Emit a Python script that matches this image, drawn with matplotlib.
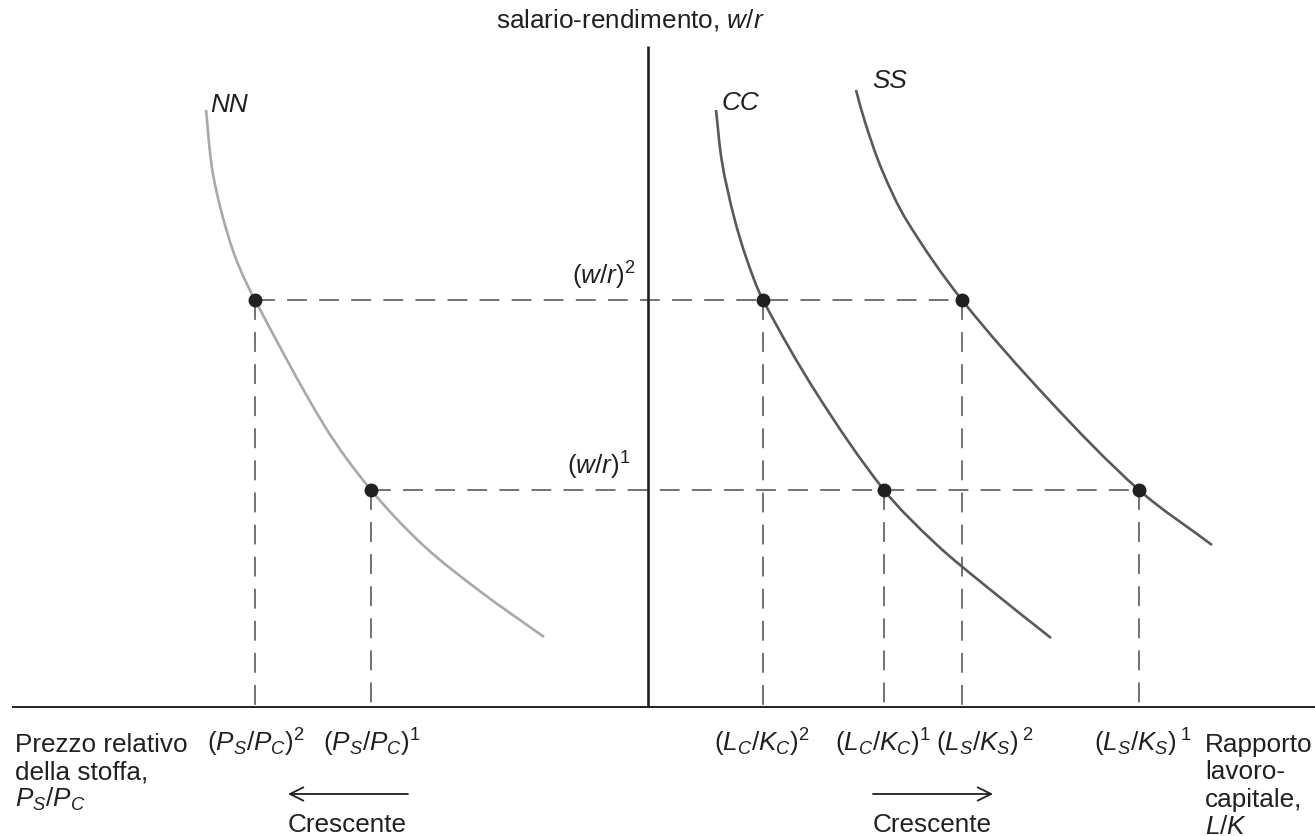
import matplotlib
matplotlib.use("Agg")
import matplotlib.pyplot as plt
from matplotlib.path import Path
from matplotlib.patches import PathPatch

# font like Helvetica, math in the same family
plt.rcParams['font.family'] = ['Liberation Sans', 'DejaVu Sans']
plt.rcParams['mathtext.fontset'] = 'custom'
plt.rcParams['mathtext.rm'] = 'Liberation Sans'
plt.rcParams['mathtext.it'] = 'Liberation Sans:italic'
plt.rcParams['mathtext.sf'] = 'Liberation Sans'

# curves (x from the w/r axis, y above the horizontal axis)
nn_x = [-442, -436, -426, -412, -393, -324, -277, -224, -167, -104]
nn_y = [597, 539, 493, 448, 407, 282, 217, 161, 115, 70]
cc_x = [68, 74, 86, 99, 115, 169, 236, 288, 339, 403]
cc_y = [597, 545, 490, 447, 407, 313, 217, 163, 120, 69]
ss_x = [208, 217, 234, 259, 314, 402, 491, 564]
ss_y = [617, 585, 537, 486, 407, 306, 217, 162]

# the two wage-rental levels, and where each curve meets them
wr_levels = [407, 217]               # (w/r)^2, (w/r)^1
wr_labels = [r'$(w/r)^2$', r'$(w/r)^1$']
nn_pts = [-393, -277]                # (PS/PC)^2, (PS/PC)^1
cc_pts = [115, 236]                  # (LC/KC)^2, (LC/KC)^1
ss_pts = [314, 491]                  # (LS/KS)^2, (LS/KS)^1
nn_ticks = [r'$(P_S/P_C)^2$', r'$(P_S/P_C)^1$']
cc_ticks = [r'$(L_C/K_C)^2$', r'$(L_C/K_C)^1$']
ss_ticks = [r'$(L_S/K_S)\,^2$', r'$(L_S/K_S)\,^1$']

left_lines = ['Prezzo relativo', 'della stoffa,', '$P_S/P_C$']
right_lines = ['Rapporto', 'lavoro-', 'capitale,', '$L/K$']

ink = '#231f20'
dark = '#58595b'
light = '#a7a9ac'
fs = 18.8


def smooth_path(xs, ys):
    # bezier segments through the read points, tangents from chord lengths
    pts = list(zip(xs, ys))
    n = len(pts)
    t = [0.0]
    for i in range(1, n):
        dx = pts[i][0] - pts[i - 1][0]
        dy = pts[i][1] - pts[i - 1][1]
        t.append(t[-1] + (dx * dx + dy * dy) ** 0.5)
    tang = []
    for i in range(n):
        a = max(i - 1, 0)
        b = min(i + 1, n - 1)
        dt = t[b] - t[a]
        tang.append(((pts[b][0] - pts[a][0]) / dt, (pts[b][1] - pts[a][1]) / dt))
    verts = [pts[0]]
    codes = [Path.MOVETO]
    for i in range(n - 1):
        h = (t[i + 1] - t[i]) / 3.0
        c1 = (pts[i][0] + tang[i][0] * h, pts[i][1] + tang[i][1] * h)
        c2 = (pts[i + 1][0] - tang[i + 1][0] * h, pts[i + 1][1] - tang[i + 1][1] * h)
        verts += [c1, c2, pts[i + 1]]
        codes += [Path.CURVE4] * 3
    return Path(verts, codes)


fig = plt.figure(figsize=(13.15, 8.37), dpi=100, facecolor='white')
ax = fig.add_axes([0, 0, 1, 1])
ax.set_xlim(-648, 667)
ax.set_ylim(-129, 708)
ax.axis('off')

# axes of the diagram
ax.plot([0, 0], [0, 661], color=ink, lw=1.9, solid_capstyle='butt', zorder=3)
ax.plot([-636, 667], [0, 0], color=ink, lw=1.4, solid_capstyle='butt', zorder=3)

# curves
for xs, ys, col in [(nn_x, nn_y, light), (cc_x, cc_y, dark), (ss_x, ss_y, dark)]:
    ax.add_patch(PathPatch(smooth_path(xs, ys), fill=False, edgecolor=col,
                           lw=1.9, zorder=2))

dash = dict(color='#4d4d4f', lw=1.1, dashes=(13, 8), zorder=1)
for i, lev in enumerate(wr_levels):
    ax.plot([nn_pts[i], ss_pts[i]], [lev, lev], **dash)
    for px in (nn_pts[i], cc_pts[i], ss_pts[i]):
        ax.plot([px, px], [lev, 0], **dash)
    ax.plot([nn_pts[i], cc_pts[i], ss_pts[i]], [lev] * 3, 'o', ms=9,
            color=ink, zorder=4, linestyle='none')
    ax.text(-12 - 5 * i, lev + 16, wr_labels[i], fontsize=fs, color=ink,
            ha='right', va='baseline')

# labels under the axis
base = -44
for i in range(2):
    ax.text(nn_pts[i] + 1, base, nn_ticks[i], fontsize=fs, color=ink,
            ha='center', va='baseline')
    ax.text(cc_pts[i] - 1, base, cc_ticks[i], fontsize=fs, color=ink,
            ha='center', va='baseline')
ax.text(ss_pts[0] - 26, base, ss_ticks[0], fontsize=fs, color=ink,
        ha='left', va='baseline')
ax.text(ss_pts[1] + 4, base, ss_ticks[1], fontsize=fs, color=ink,
        ha='center', va='baseline')

step = 27.5
for k, line in enumerate(left_lines):
    ax.text(-633, base - k * step, line, fontsize=fs, color=ink,
            ha='left', va='baseline')
for k, line in enumerate(right_lines):
    ax.text(557, base - k * step, line, fontsize=fs, color=ink,
            ha='left', va='baseline')

# title of the vertical axis and curve names
ax.text(-18, 688, 'salario-rendimento, $w/r$', fontsize=fs, color=ink,
        ha='center', va='center')
ax.text(-438, 603, 'NN', fontsize=fs, color=ink, style='italic', va='center')
ax.text(74, 605, 'CC', fontsize=fs, color=ink, style='italic', va='center')
ax.text(224, 627, 'SS', fontsize=fs, color=ink, style='italic', va='center')

# direction arrows
arr = dict(arrowstyle='->', color=ink, lw=1.3, mutation_scale=24,
           shrinkA=0, shrinkB=0)
ax.annotate('', xy=(-360, -87), xytext=(-240, -87), arrowprops=arr)
ax.annotate('', xy=(345, -87), xytext=(225, -87), arrowprops=arr)
ax.text(-301, -124, 'Crescente', fontsize=fs, color=ink, ha='center', va='baseline')
ax.text(284, -124, 'Crescente', fontsize=fs, color=ink, ha='center', va='baseline')

fig.savefig('out.png', dpi=100, facecolor='white')
